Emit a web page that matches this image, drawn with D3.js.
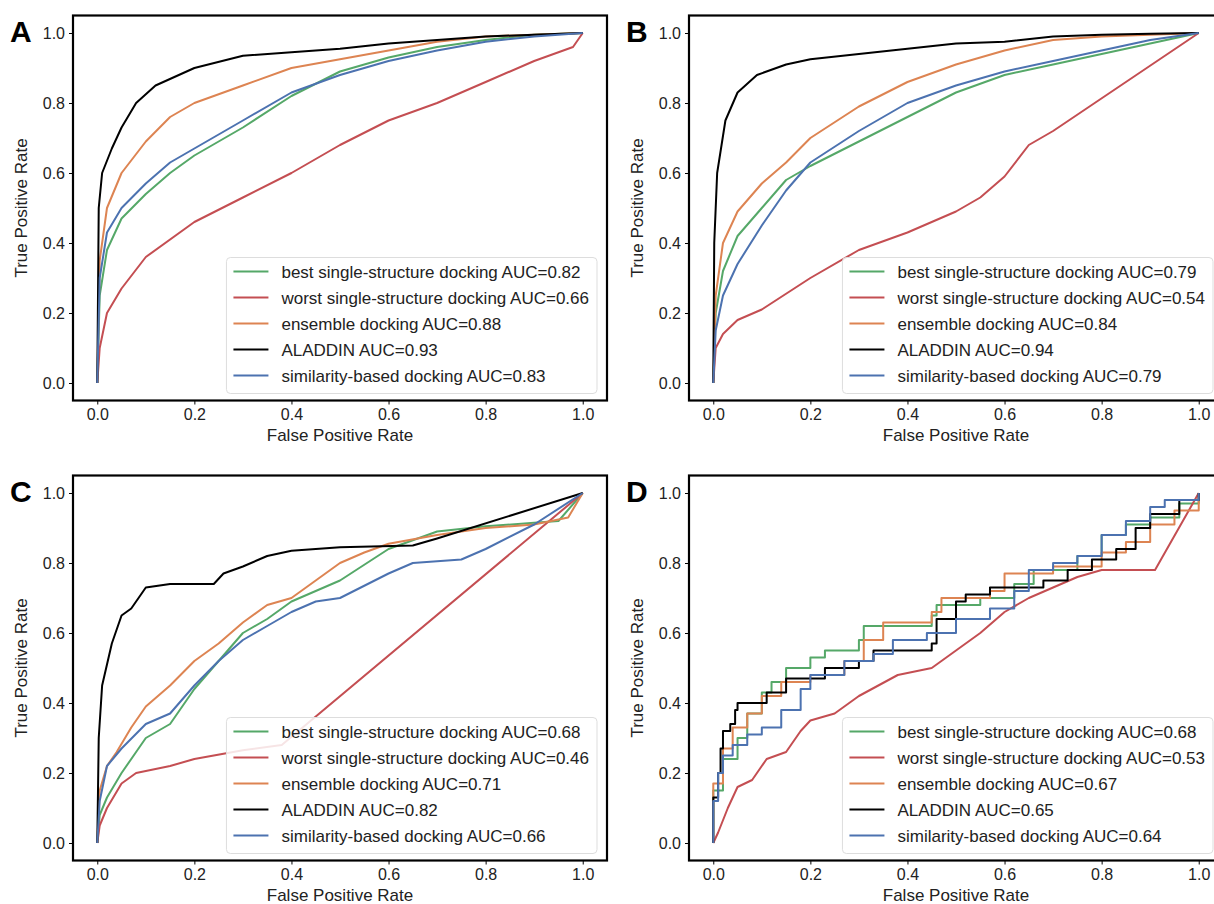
<!DOCTYPE html>
<html>
<head>
<meta charset="utf-8">
<script src="https://cdn.jsdelivr.net/npm/d3@7"></script>
<style>
  body { margin: 0; background: #fff; }
  text { font-family: "Liberation Sans", Arial, sans-serif; }
</style>
</head>
<body>
<div id="chart"></div>
<script>
// series names in legend order
var seriesNames = ["best single-structure docking", "worst single-structure docking",
  "ensemble docking", "ALADDIN", "similarity-based docking"];
var seriesColors = ["#55a868", "#c44e52", "#dd8452", "#000000", "#4c72b0"];
var tickValues = [0, 0.2, 0.4, 0.6, 0.8, 1.0];

// AUC values per panel (order: best, worst, ensemble, ALADDIN, similarity)
var aucA = ["0.82", "0.66", "0.88", "0.93", "0.83"];
var aucB = ["0.79", "0.54", "0.84", "0.94", "0.79"];
var aucC = ["0.68", "0.46", "0.71", "0.82", "0.66"];
var aucD = ["0.68", "0.53", "0.67", "0.65", "0.64"];

// ROC points [FPR, TPR]
var rocA = [
  [[0,0],[0.005,0.25],[0.02,0.38],[0.05,0.47],[0.1,0.54],[0.15,0.6],[0.2,0.65],[0.3,0.73],[0.4,0.82],[0.5,0.89],[0.6,0.93],[0.7,0.96],[0.8,0.98],[0.9,0.995],[1,1]],
  [[0,0],[0.005,0.1],[0.02,0.2],[0.05,0.27],[0.1,0.36],[0.2,0.46],[0.3,0.53],[0.4,0.6],[0.5,0.68],[0.6,0.75],[0.7,0.8],[0.8,0.86],[0.9,0.92],[0.98,0.96],[1,1]],
  [[0,0],[0.005,0.35],[0.02,0.5],[0.05,0.6],[0.1,0.69],[0.15,0.76],[0.2,0.8],[0.3,0.85],[0.4,0.9],[0.5,0.925],[0.6,0.95],[0.7,0.975],[0.8,0.99],[0.9,0.995],[1,1]],
  [[0,0],[0.003,0.5],[0.01,0.6],[0.03,0.67],[0.05,0.73],[0.08,0.8],[0.12,0.85],[0.2,0.9],[0.3,0.935],[0.4,0.945],[0.5,0.955],[0.6,0.97],[0.7,0.98],[0.8,0.99],[0.9,0.995],[1,1]],
  [[0,0],[0.005,0.3],[0.02,0.43],[0.05,0.5],[0.1,0.57],[0.15,0.63],[0.2,0.67],[0.3,0.75],[0.4,0.83],[0.5,0.88],[0.6,0.92],[0.7,0.95],[0.8,0.975],[0.9,0.99],[1,1]]
];
var rocB = [
  [[0,0],[0.005,0.2],[0.02,0.32],[0.05,0.42],[0.1,0.5],[0.15,0.58],[0.2,0.62],[0.3,0.69],[0.4,0.76],[0.5,0.83],[0.6,0.88],[0.7,0.91],[0.8,0.94],[0.9,0.97],[1,1]],
  [[0,0],[0.005,0.1],[0.02,0.14],[0.05,0.18],[0.1,0.21],[0.2,0.3],[0.3,0.38],[0.4,0.43],[0.5,0.49],[0.55,0.53],[0.6,0.59],[0.65,0.68],[0.7,0.72],[1,1]],
  [[0,0],[0.005,0.25],[0.02,0.4],[0.05,0.49],[0.1,0.57],[0.15,0.63],[0.2,0.7],[0.3,0.79],[0.4,0.86],[0.5,0.91],[0.6,0.95],[0.7,0.98],[0.8,0.99],[1,1]],
  [[0,0],[0.002,0.4],[0.008,0.6],[0.025,0.75],[0.05,0.83],[0.09,0.88],[0.15,0.91],[0.2,0.925],[0.3,0.94],[0.4,0.955],[0.5,0.97],[0.6,0.975],[0.7,0.99],[0.8,0.995],[0.9,0.998],[1,1]],
  [[0,0],[0.005,0.15],[0.02,0.25],[0.05,0.34],[0.1,0.45],[0.15,0.55],[0.2,0.63],[0.3,0.72],[0.4,0.8],[0.5,0.85],[0.6,0.89],[0.7,0.92],[0.8,0.95],[0.9,0.98],[1,1]]
];
var rocC = [
  [[0,0],[0.005,0.08],[0.02,0.13],[0.05,0.2],[0.08,0.26],[0.1,0.3],[0.15,0.34],[0.2,0.44],[0.25,0.52],[0.3,0.6],[0.35,0.64],[0.4,0.69],[0.5,0.75],[0.6,0.84],[0.7,0.89],[0.8,0.905],[0.9,0.915],[0.95,0.92],[1,1]],
  [[0,0],[0.005,0.05],[0.02,0.1],[0.05,0.17],[0.08,0.2],[0.15,0.22],[0.2,0.24],[0.3,0.265],[0.38,0.28],[1,1]],
  [[0,0],[0.005,0.15],[0.02,0.22],[0.04,0.26],[0.07,0.33],[0.1,0.39],[0.15,0.45],[0.2,0.52],[0.25,0.57],[0.3,0.63],[0.35,0.68],[0.4,0.7],[0.45,0.75],[0.5,0.8],[0.55,0.83],[0.6,0.855],[0.7,0.88],[0.8,0.9],[0.9,0.91],[0.97,0.93],[1,1]],
  [[0,0],[0.003,0.3],[0.01,0.45],[0.03,0.57],[0.05,0.65],[0.07,0.67],[0.1,0.73],[0.15,0.74],[0.24,0.74],[0.26,0.77],[0.3,0.79],[0.35,0.82],[0.4,0.835],[0.5,0.845],[0.65,0.85],[0.7,0.87],[1,1]],
  [[0,0],[0.005,0.12],[0.02,0.22],[0.05,0.27],[0.1,0.34],[0.15,0.37],[0.2,0.45],[0.25,0.52],[0.3,0.58],[0.35,0.62],[0.4,0.66],[0.45,0.69],[0.5,0.7],[0.6,0.77],[0.65,0.8],[0.75,0.81],[0.8,0.84],[0.9,0.91],[1,1]]
];
var rocD = [
  [[0,0],[0,0.15],[0.02,0.24],[0.05,0.3],[0.07,0.37],[0.1,0.43],[0.12,0.46],[0.15,0.5],[0.2,0.53],[0.23,0.55],[0.3,0.58],[0.31,0.62],[0.45,0.65],[0.46,0.68],[0.55,0.7],[0.62,0.74],[0.66,0.78],[0.75,0.82],[0.8,0.88],[0.85,0.91],[0.9,0.93],[0.96,0.97],[1,1]],
  [[0,0],[0.01,0.03],[0.03,0.1],[0.05,0.16],[0.08,0.18],[0.11,0.24],[0.15,0.26],[0.18,0.32],[0.2,0.35],[0.25,0.37],[0.3,0.42],[0.38,0.48],[0.45,0.5],[0.5,0.55],[0.55,0.6],[0.6,0.66],[0.65,0.7],[0.7,0.73],[0.75,0.76],[0.8,0.78],[0.91,0.78],[1,1]],
  [[0,0],[0,0.17],[0.02,0.27],[0.04,0.33],[0.07,0.37],[0.1,0.42],[0.14,0.46],[0.2,0.48],[0.27,0.52],[0.31,0.58],[0.35,0.63],[0.45,0.66],[0.47,0.7],[0.57,0.72],[0.6,0.77],[0.7,0.79],[0.8,0.83],[0.85,0.86],[0.9,0.91],[0.95,0.95],[1,1]],
  [[0,0],[0,0.13],[0.01,0.2],[0.015,0.27],[0.02,0.32],[0.035,0.34],[0.045,0.38],[0.05,0.4],[0.11,0.43],[0.15,0.47],[0.23,0.5],[0.3,0.52],[0.33,0.55],[0.45,0.57],[0.46,0.64],[0.5,0.69],[0.52,0.71],[0.57,0.73],[0.68,0.75],[0.73,0.78],[0.78,0.81],[0.83,0.84],[0.87,0.9],[0.9,0.94],[0.96,0.98],[1,1]],
  [[0,0],[0,0.12],[0.01,0.2],[0.02,0.25],[0.04,0.28],[0.07,0.31],[0.1,0.33],[0.14,0.38],[0.18,0.44],[0.2,0.48],[0.27,0.52],[0.33,0.54],[0.37,0.58],[0.44,0.6],[0.5,0.64],[0.57,0.67],[0.62,0.72],[0.65,0.78],[0.7,0.8],[0.75,0.82],[0.8,0.88],[0.85,0.92],[0.9,0.96],[0.93,0.98],[0.98,0.98],[1,1]]
];

var svg = d3.select("#chart").append("svg")
  .attr("width", 1214).attr("height", 904);

var panels = [
  {label: "A", left: 73, top: 15.5, roc: rocA, auc: aucA, stepped: false},
  {label: "B", left: 689, top: 15.5, roc: rocB, auc: aucB, stepped: false},
  {label: "C", left: 73, top: 475.5, roc: rocC, auc: aucC, stepped: false},
  {label: "D", left: 689, top: 475.5, roc: rocD, auc: aucD, stepped: true}
];
var W = 534, H = 385;

panels.forEach(function(p) {
  var g = svg.append("g").attr("transform", `translate(${p.left},${p.top})`);
  var x = d3.scaleLinear().domain([-0.05, 1.05]).range([0, W]);
  var y = d3.scaleLinear().domain([-0.05, 1.05]).range([H, 0]);

  var xAxis = g.append("g").attr("transform", `translate(0,${H})`)
    .call(d3.axisBottom(x).tickValues(tickValues).tickFormat(d3.format(".1f")).tickSize(4).tickPadding(4));
  var yAxis = g.append("g")
    .call(d3.axisLeft(y).tickValues(tickValues).tickFormat(d3.format(".1f")).tickSize(4).tickPadding(4));
  [xAxis, yAxis].forEach(function(a) {
    a.select(".domain").remove();
    a.selectAll("text").style("font-size", "16px").attr("fill", "#222");
    a.selectAll("line").attr("stroke", "#000");
  });

  p.roc.forEach(function(pts, i) {
    // the worst curve in D ends with a straight diagonal, keep it linear
    var curve = (p.stepped && i !== 1) ? d3.curveStepAfter : d3.curveLinear;
    var line = d3.line().x(d => x(d[0])).y(d => y(d[1])).curve(curve);
    g.append("path").datum(pts).attr("d", line)
      .attr("fill", "none").attr("stroke", seriesColors[i])
      .attr("stroke-width", 2).attr("stroke-linejoin", "round");
  });

  g.append("rect").attr("width", W).attr("height", H)
    .attr("fill", "none").attr("stroke", "#000").attr("stroke-width", 2.2);

  g.append("text").attr("x", W / 2).attr("y", H + 40).attr("text-anchor", "middle")
    .style("font-size", "17px").attr("fill", "#222").text("False Positive Rate");
  g.append("text").attr("transform", `translate(-46,${H / 2}) rotate(-90)`)
    .attr("text-anchor", "middle").style("font-size", "17px").attr("fill", "#222")
    .text("True Positive Rate");
  g.append("text").attr("x", -63).attr("y", 26).style("font-size", "30px")
    .style("font-weight", "bold").text(p.label);

  // legend
  var leg = g.append("g");
  var box = leg.append("rect").attr("rx", 4)
    .attr("fill", "#fff").attr("fill-opacity", 0.85).attr("stroke", "#ddd");
  var maxW = 0;
  seriesNames.forEach(function(name, i) {
    var yy = 14 + i * 26;
    leg.append("line").attr("x1", 7).attr("x2", 42).attr("y1", yy).attr("y2", yy)
      .attr("stroke", seriesColors[i]).attr("stroke-width", 2);
    var t = leg.append("text").attr("x", 55).attr("y", yy + 6)
      .style("font-size", "17px").attr("fill", "#222")
      .text(name + " AUC=" + p.auc[i]);
    maxW = Math.max(maxW, t.node().getComputedTextLength());
  });
  var bw = 55 + maxW + 8;
  box.attr("width", bw).attr("height", 136);
  leg.attr("transform", `translate(${W - 10 - bw},${H - 143})`);
});
</script>
</body>
</html>
